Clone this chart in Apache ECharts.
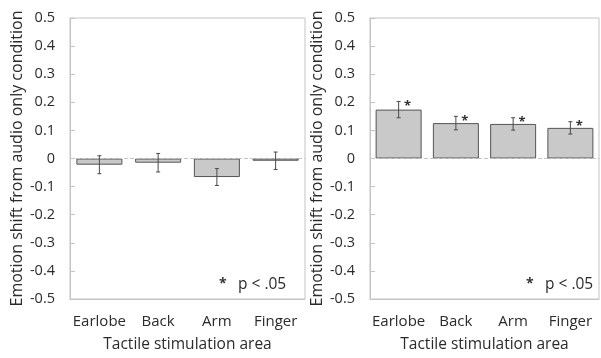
<!DOCTYPE html>
<html>
<head>
<meta charset="utf-8">
<script src="https://cdn.jsdelivr.net/npm/echarts@6/dist/echarts.min.js"></script>
<style>
  html, body { margin: 0; padding: 0; background: #fff; }
  #main { width: 601px; height: 358px; }
</style>
</head>
<body>
<div id="main"></div>
<script>
// values
var categories = ['Earlobe', 'Back', 'Arm', 'Finger'];
var yTicks = [-0.5, 0.5, 0.1]; // min, max, step
var leftMeans = [-0.022, -0.015, -0.066, -0.008];
var leftErrors = [0.032, 0.033, 0.030, 0.031];
var rightMeans = [0.174, 0.126, 0.123, 0.109];
var rightErrors = [0.029, 0.024, 0.022, 0.022];
var rightSignificant = [1, 1, 1, 1];
var yTitle = 'Emotion shift from audio only condition';
var xTitle = 'Tactile stimulation area';
var noteText = 'p < .05';

var font = '"Open Sans", "Noto Sans", sans-serif';
var frameColor = '#c4c4c4';
var textColor = '#2b2b2b';

function errorData(means, errs, sig) {
  return means.map(function (m, i) {
    return [i, m, errs[i], sig ? sig[i] : 0];
  });
}

function renderError(params, api) {
  var i = api.value(0), m = api.value(1), e = api.value(2);
  var top = api.coord([i, m + e]);
  var bot = api.coord([i, m - e]);
  var cap = 2;
  var style = { stroke: '#4a4a4a', lineWidth: 1 };
  var children = [
    { type: 'line', shape: { x1: top[0], y1: top[1], x2: bot[0], y2: bot[1] }, style: style },
    { type: 'line', shape: { x1: top[0] - cap, y1: top[1], x2: top[0] + cap, y2: top[1] }, style: style },
    { type: 'line', shape: { x1: bot[0] - cap, y1: bot[1], x2: bot[0] + cap, y2: bot[1] }, style: style }
  ];
  if (api.value(3)) {
    children.push({
      type: 'text',
      style: {
        text: '*', x: top[0] + 9, y: top[1] + 5,
        align: 'center', verticalAlign: 'middle',
        font: 'bold 13px ' + font, fill: '#333'
      }
    });
  }
  return { type: 'group', children: children };
}

function makeX(idx) {
  return {
    type: 'category', gridIndex: idx, data: categories,
    name: xTitle, nameLocation: 'middle', nameGap: 38,
    nameTextStyle: { fontFamily: font, fontSize: 15.5, color: textColor },
    axisLine: { show: true, onZero: false, lineStyle: { color: frameColor } },
    axisTick: { show: false },
    axisLabel: { interval: 0, fontFamily: font, fontSize: 15, color: textColor, margin: 15 }
  };
}

function makeY(idx) {
  return {
    type: 'value', gridIndex: idx,
    min: yTicks[0], max: yTicks[1], interval: yTicks[2],
    name: yTitle, nameLocation: 'middle', nameGap: 45,
    nameTextStyle: { fontFamily: font, fontSize: 16, color: textColor },
    axisLine: { show: true, lineStyle: { color: frameColor } },
    axisTick: { show: true, inside: true, length: 5, lineStyle: { color: frameColor } },
    splitLine: { show: false },
    axisLabel: {
      fontFamily: font, fontSize: 14.5, color: textColor, margin: 15,
      formatter: function (v) { return String(Math.round(v * 10) / 10); }
    }
  };
}

function barSeries(idx, means) {
  return {
    type: 'bar', xAxisIndex: idx, yAxisIndex: idx, data: means,
    barWidth: 46,
    itemStyle: { color: '#c9c9c9', borderColor: '#555', borderWidth: 1 },
    markLine: {
      silent: true, symbol: 'none', label: { show: false },
      lineStyle: { color: '#c4c4c4', type: 'dashed', width: 1 },
      data: [{ yAxis: 0 }]
    },
    z: 2
  };
}

function errSeries(idx, means, errs, sig) {
  return {
    type: 'custom', xAxisIndex: idx, yAxisIndex: idx,
    data: errorData(means, errs, sig), renderItem: renderError, z: 5
  };
}

function note(x) {
  return [
    { type: 'text', left: x, top: 277, style: { text: '*', font: 'bold 14px ' + font, fill: '#333' } },
    { type: 'text', left: x + 19, top: 277, style: { text: noteText, font: '15.5px ' + font, fill: textColor } }
  ];
}

var chart = echarts.init(document.getElementById('main'));
chart.setOption({
  animation: false,
  grid: [
    { left: 70, top: 18, width: 235, height: 287, show: true, borderColor: frameColor, borderWidth: 1 },
    { left: 370, top: 18, width: 229, height: 287, show: true, borderColor: frameColor, borderWidth: 1 }
  ],
  xAxis: [makeX(0), makeX(1)],
  yAxis: [makeY(0), makeY(1)],
  series: [
    barSeries(0, leftMeans),
    errSeries(0, leftMeans, leftErrors, null),
    barSeries(1, rightMeans),
    errSeries(1, rightMeans, rightErrors, rightSignificant)
  ],
  graphic: note(219).concat(note(526))
});
</script>
</body>
</html>
